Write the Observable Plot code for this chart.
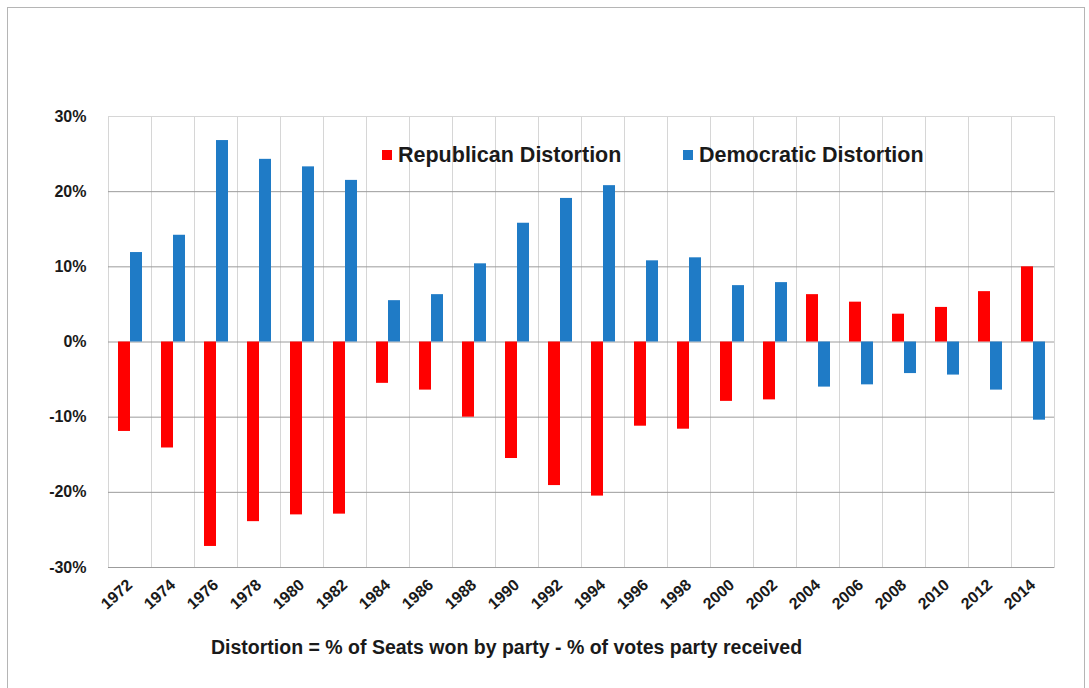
<!DOCTYPE html>
<html>
<head>
<meta charset="utf-8">
<script src="https://cdn.jsdelivr.net/npm/d3@7"></script>
<script src="https://cdn.jsdelivr.net/npm/@observablehq/plot@0.6"></script>
<style>
  html, body { margin: 0; padding: 0; background: #fff; }
  #wrap { position: relative; width: 1089px; height: 688px; overflow: hidden; font-family: "Liberation Sans", Arial, sans-serif; color: #1a1a1a; }
  #border { position: absolute; left: 7px; top: 7px; width: 1078px; height: 700px; border: 1px solid #b5b5b5; box-sizing: border-box; }
  #chart { position: absolute; left: 0; top: 0; }
  .legend { position: absolute; top: 142px; font-weight: bold; font-size: 21.5px; line-height: 26px; white-space: nowrap; }
  .legend .sw { display: inline-block; width: 10px; height: 10px; margin-right: 6px; vertical-align: 2px; }
  #caption { position: absolute; left: 211px; top: 635px; font-weight: bold; font-size: 19.5px; line-height: 24px; white-space: nowrap; }
</style>
</head>
<body>
<div id="wrap">
  <div id="border"></div>
  <div id="chart"></div>
  <div id="legend"></div>
  <div id="caption">Distortion = % of Seats won by party - % of votes party received</div>
</div>
<script>
const years = [1972,1974,1976,1978,1980,1982,1984,1986,1988,1990,1992,1994,1996,1998,2000,2002,2004,2006,2008,2010,2012,2014];
const republican = [-11.9,-14.1,-27.2,-23.9,-23.0,-22.9,-5.5,-6.4,-10.0,-15.5,-19.1,-20.5,-11.2,-11.6,-7.9,-7.7,6.3,5.3,3.7,4.6,6.7,10.0];
const democratic = [11.9,14.2,26.8,24.3,23.3,21.5,5.5,6.3,10.4,15.8,19.1,20.8,10.8,11.2,7.5,7.9,-6.0,-5.7,-4.2,-4.4,-6.4,-10.4];
const parties = ["Republican Distortion", "Democratic Distortion"];
const partyColors = ["#ff0000", "#1f7bc6"];
const yTicks = [-30,-20,-10,0,10,20,30];

const data = years.flatMap((yr, i) => [
  {year: yr, party: parties[0], value: republican[i]},
  {year: yr, party: parties[1], value: democratic[i]}
]);

const chart = Plot.plot({
  width: 1089,
  height: 620,
  marginLeft: 100,
  marginRight: 28,
  marginTop: 116,
  marginBottom: 53,
  style: {fontFamily: "'Liberation Sans', Arial, sans-serif", color: "#1a1a1a", background: "transparent"},
  fx: {domain: years, padding: 0, label: null},
  x: {domain: parties, paddingInner: 0, paddingOuter: 0.75, axis: null},
  y: {domain: [-30, 30], axis: null},
  color: {domain: parties, range: partyColors},
  marks: [
    Plot.frame({stroke: "#d6d6d6"}),
    Plot.ruleY(yTicks.filter(d => d < 30), {stroke: "#9c9c9c"}),
    Plot.barY(data, {fx: "year", x: "party", y: "value", fill: "party"}),
    Plot.axisY(yTicks, {anchor: "left", tickSize: 0, tickPadding: 22, tickFormat: d => d + "%", fontSize: 16, fontWeight: "bold", label: null}),
    Plot.axisFx({anchor: "bottom", tickSize: 0, tickPadding: 15, tickRotate: -42, tickFormat: d => String(d), fontSize: 16, fontWeight: "bold", label: null})
  ]
});
document.getElementById("chart").appendChild(chart);

// legend
const legendPos = [382, 683];
const legend = document.getElementById("legend");
parties.forEach((p, i) => {
  const d = document.createElement("div");
  d.className = "legend";
  d.style.left = legendPos[i] + "px";
  d.innerHTML = `<span class="sw" style="background:${partyColors[i]}"></span>${p}`;
  legend.appendChild(d);
});
</script>
</body>
</html>
